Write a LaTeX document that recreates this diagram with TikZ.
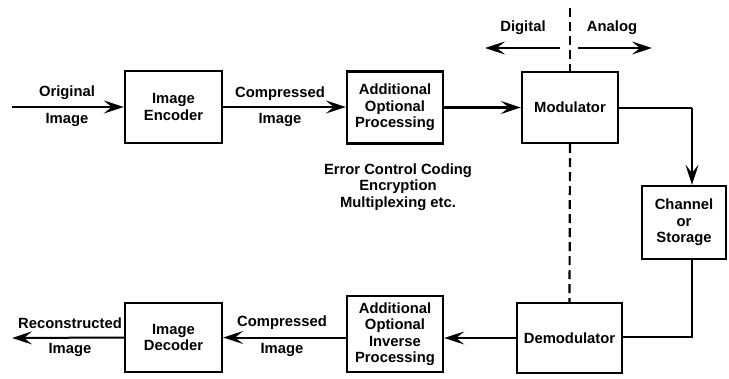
\documentclass[tikz,border=0pt]{standalone}
\usepackage{fontspec}
\setmainfont{Liberation Sans}
\usetikzlibrary{arrows.meta}
\begin{document}
\begin{tikzpicture}[x=1pt,y=-1pt,
  every node/.style={font=\fontsize{14.8}{16.5}\selectfont\bfseries, inner sep=0pt},
  blk/.style={draw, line width=2.4pt, align=center},
  lbl/.style={align=center},
  tip/.style={-{Stealth[length=20pt,width=13pt,inset=8pt]}},
  conn/.style={line width=2.8pt, tip},
  thin/.style={line width=2pt},
  dash line/.style={line width=2.2pt, dash pattern=on 9pt off 5pt}]
\useasboundingbox (0,0) rectangle (729,378);
% blocks
\node[blk, minimum width=97pt, minimum height=72pt] (enc) at (173.5,107) {Image\\Encoder};
\node[blk, minimum width=96pt, minimum height=72pt] (proc) at (395,107.5) {Additional\\Optional\\Processing};
\node[blk, minimum width=96pt, minimum height=71pt] (mod) at (570,107.5) {Modulator};
\node[blk, minimum width=84pt, minimum height=73pt] (chan) at (684,222.5) {Channel\\or\\Storage};
\node[blk, minimum width=105pt, minimum height=70pt] (demod) at (569.5,338) {Demodulator};
\node[blk, minimum width=96pt, minimum height=76pt] (inv) at (395,334) {Additional\\Optional\\Inverse\\Processing};
\node[blk, minimum width=97pt, minimum height=69pt] (dec) at (173.5,337.5) {Image\\Decoder};
% coordinates
\coordinate (in) at (12,107);
\coordinate (out) at (12,338);
\coordinate (top) at (570,8);
\coordinate (corner1) at (692,108);
\coordinate (corner2) at (692,337);
\coordinate (dL) at (485,48);
\coordinate (dR) at (560,48);
\coordinate (aL) at (578,48);
\coordinate (aR) at (652,48);
% connectors
\draw[conn] (in) -- (enc.west);
\draw[conn] (enc.east) -- (proc.west |- enc.east);
\draw[conn] (proc.east) -- (mod.west);
\draw[thin] (mod.east |- corner1) -- (corner1);
\draw[thin, tip] (corner1) -- (corner1 |- chan.north);
\draw[thin] (corner1 |- chan.south) -- (corner2) -- (demod.east |- corner2);
\draw[thin, tip] (demod.west) -- (inv.east |- demod.west);
\draw[thin, tip] (inv.west |- dec.east) -- (dec.east);
\draw[thin, tip] (dec.west) -- (out);
% digital/analog
\draw[dash line] (top) -- (mod.north);
\draw[dash line] (mod.south) -- (demod.north);
\draw[thin, tip] (dR) -- (dL);
\draw[thin, tip] (aL) -- (aR);
\node (dig) at (523,28) {Digital};
\node (ana) at (612,28) {Analog};
% labels
\node (l1) at (67,93) {Original};
\node (l2) at (67,120) {Image};
\node (l3) at (280,94) {Compressed};
\node (l4) at (280,120) {Image};
\node[lbl] (note) at (398,187) {Error Control Coding\\Encryption\\Multiplexing etc.};
\node (l5) at (70,323) {Reconstructed};
\node (l6) at (70,350) {Image};
\node (l7) at (282,323) {Compressed};
\node (l8) at (282,350) {Image};
\end{tikzpicture}
\end{document}
